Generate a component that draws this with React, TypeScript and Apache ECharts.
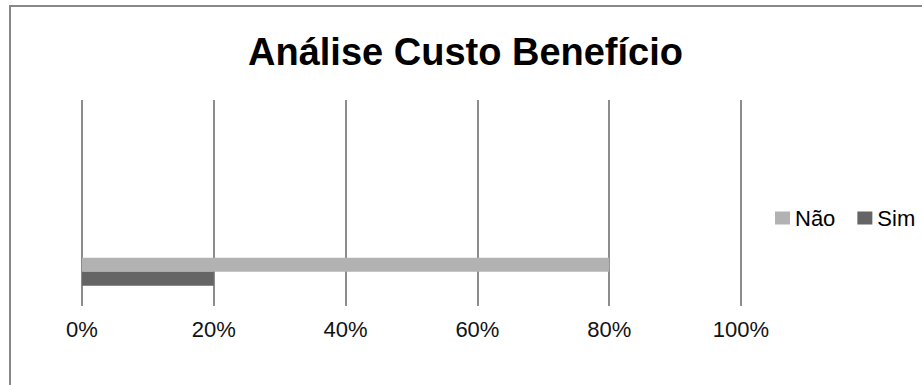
import React, { useEffect, useRef } from "react";
import * as echarts from "echarts";

const titleText = "Análise Custo Benefício";
const categories = ["Item 1", "Item 2", "Item 3"];
const seriesNames = ["Não", "Sim"];
const naoValues: (number | null)[] = [80, null, null];
const simValues: (number | null)[] = [20, null, null];
const axisMin = 0;
const axisMax = 100;
const axisInterval = 20;

export default function App() {
  const ref = useRef<HTMLDivElement>(null);
  useEffect(() => {
    if (!ref.current) return;
    const chart = echarts.init(ref.current, null, { renderer: "svg" });
    const font = "'Liberation Sans', Arial, sans-serif";
    chart.setOption({
      animation: false,
      backgroundColor: "#ffffff",
      title: {
        text: titleText,
        left: 248,
        top: 33,
        padding: 0,
        textStyle: { fontFamily: font, fontWeight: "bold", fontSize: 38, color: "#000000" },
      },
      legend: {
        data: ["Não", "Sim"],
        left: 775,
        top: 207,
        padding: 0,
        itemWidth: 15,
        itemHeight: 13,
        itemGap: 22,
        icon: "rect",
        textStyle: { fontFamily: font, fontSize: 22, color: "#000000" },
      },
      grid: { left: 82, width: 659, top: 100, height: 206, containLabel: false },
      xAxis: {
        type: "value",
        min: axisMin,
        max: axisMax,
        interval: axisInterval,
        axisLine: { show: false },
        axisTick: { show: false },
        splitLine: { show: true, lineStyle: { color: "#8c8c8c", width: 2 } },
        axisLabel: {
          formatter: "{value}%",
          margin: 12,
          fontFamily: font,
          fontSize: 22,
          color: "#111111",
        },
      },
      yAxis: {
        type: "category",
        data: categories,
        axisLine: { show: false },
        axisTick: { show: false },
        axisLabel: { show: false },
        splitLine: { show: false },
      },
      series: [
        {
          name: seriesNames[0],
          type: "bar",
          data: naoValues,
          barWidth: 14,
          barGap: "0%",
          itemStyle: { color: "#b2b2b2" },
        },
        {
          name: seriesNames[1],
          type: "bar",
          data: simValues,
          barWidth: 14,
          barGap: "0%",
          itemStyle: { color: "#656565" },
        },
      ],
      graphic: [
        {
          type: "rect",
          shape: { x: 10, y: 6, width: 960, height: 430 },
          style: { fill: "none", stroke: "#888888", lineWidth: 2 },
          silent: true,
        },
      ],
    });
    return () => chart.dispose();
  }, []);
  return (
    <div
      ref={ref}
      style={{ position: "absolute", left: 0, top: 0, width: 922, height: 385 }}
    />
  );
}
